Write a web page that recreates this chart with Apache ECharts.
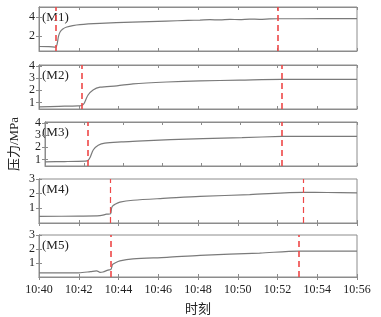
<!DOCTYPE html>
<html>
<head>
<meta charset="utf-8">
<script src="https://cdn.jsdelivr.net/npm/echarts@6/dist/echarts.min.js"></script>
<style>
  html, body { margin: 0; padding: 0; background: #fff; }
  #chart { width: 381px; height: 317px; }
</style>
</head>
<body>
<div id="chart"></div>
<script>
// minutes after 10:40
const timeTicks = [0, 2, 4, 6, 8, 10, 12, 14, 16]
const panelNames = ['(M1)', '(M2)', '(M3)', '(M4)', '(M5)']

// [minute, pressure MPa]
const m1 = [[0, 0.96], [0.5, 0.95], [0.85, 0.9], [0.92, 1.3], [0.98, 2.0], [1.06, 2.45], [1.2, 2.75], [1.4, 2.95],
  [1.7, 3.1], [2.06, 3.2], [3.07, 3.32], [4.7, 3.46], [6.4, 3.56], [7.5, 3.63], [8.1, 3.66], [8.6, 3.7],
  [9.1, 3.68], [9.6, 3.73], [10.1, 3.71], [10.6, 3.76], [11.1, 3.74], [11.6, 3.78], [12.0, 3.8], [13, 3.8], [16, 3.81]]
const m2 = [[0, 0.63], [1, 0.67], [1.96, 0.71], [2.15, 0.74], [2.25, 0.88], [2.31, 1.05], [2.47, 1.61], [2.72, 2.03],
  [3.07, 2.26], [3.92, 2.37], [4.73, 2.54], [6.44, 2.69], [8.1, 2.78], [10.1, 2.84], [12.2, 2.9], [13, 2.9], [16, 2.9]]
const m3 = [[0, 0.8], [1, 0.82], [2.06, 0.86], [2.2, 0.9], [2.31, 1.15], [2.48, 1.8], [2.73, 2.17], [3.07, 2.35],
  [3.91, 2.45], [4.73, 2.51], [6.44, 2.63], [8.1, 2.72], [10.1, 2.81], [12.15, 2.9], [13, 2.91], [16, 2.91]]
const m4 = [[0, 0.45], [2, 0.47], [3.07, 0.5], [3.4, 0.6], [3.6, 0.63], [3.65, 1.0], [3.7, 1.15], [3.82, 1.27],
  [4.07, 1.42], [4.73, 1.55], [6.44, 1.69], [8.1, 1.82], [10.6, 1.93], [13.3, 2.09], [14.5, 2.08], [16, 2.06]]
const m5 = [[0, 0.29], [2, 0.3], [2.58, 0.38], [2.9, 0.44], [3.07, 0.33], [3.22, 0.36], [3.47, 0.49], [3.62, 0.55],
  [3.7, 0.89], [3.82, 1.0], [4.07, 1.15], [4.73, 1.29], [6.44, 1.4], [8.1, 1.55], [11.1, 1.71], [13.08, 1.85], [16, 1.85]]

// red dashed markers (minutes)
const marks = [[0.86, 12.0], [2.15, 12.2], [2.2, 12.15], [3.6, 13.3], [3.6, 13.08]]

const yMin = [0.5, 0.45, 0.45, 0, 0]
const yMax = [5, 4.1, 4.1, 3, 3]
const yTicks = [[2, 4], [1, 2, 3, 4], [1, 2, 3, 4], [1, 2, 3], [1, 2, 3]]

const seriesData = [m1, m2, m3, m4, m5]
const tops = [7, 65, 122, 179, 235]

const serif = 'Liberation Serif, Noto Sans CJK SC'
const frame = '#8c8c8c'

let grids = [], xAxes = [], yAxes = [], series = [], texts = []

seriesData.forEach((data, i) => {
  grids.push({ left: 39, right: 24, top: tops[i], height: 44, show: true, borderColor: frame, borderWidth: 1 })
  let last = i === 4
  xAxes.push({
    type: 'value', gridIndex: i, min: 0, max: 16, interval: 2,
    axisLine: { lineStyle: { color: frame } },
    axisTick: { inside: true, length: 3, lineStyle: { color: frame } },
    splitLine: { show: false },
    axisLabel: {
      show: last, color: '#222', fontFamily: serif, fontSize: 12, margin: 7,
      formatter: v => '10:' + (40 + v)
    },
    name: last ? '时刻' : '', nameLocation: 'middle', nameGap: 26,
    nameTextStyle: { fontFamily: serif, fontSize: 13, color: '#222' }
  })
  xAxes.push({
    type: 'value', gridIndex: i, min: 0, max: 16, interval: 2, position: 'top',
    axisLine: { lineStyle: { color: frame } },
    axisTick: { inside: true, length: 3, lineStyle: { color: frame } },
    splitLine: { show: false }, axisLabel: { show: false }
  })
  yAxes.push({
    type: 'value', gridIndex: i, min: yMin[i], max: yMax[i],
    axisLine: { show: true, lineStyle: { color: frame } },
    axisTick: { show: true, inside: true, length: 3, customValues: yTicks[i], lineStyle: { color: frame } },
    splitLine: { show: false },
    axisLabel: { customValues: yTicks[i], color: '#222', fontFamily: serif, fontSize: 12, margin: 4 },
    name: i === 2 ? '压力/MPa' : '', nameLocation: 'middle', nameGap: 24, nameRotate: 90,
    nameTextStyle: { fontFamily: serif, fontSize: 13, color: '#222' }
  })
  yAxes.push({
    type: 'value', gridIndex: i, min: yMin[i], max: yMax[i], position: 'right',
    axisLine: { show: true, lineStyle: { color: frame } },
    axisTick: { show: true, inside: true, length: 3, customValues: yTicks[i], lineStyle: { color: frame } },
    splitLine: { show: false }, axisLabel: { show: false }
  })
  series.push({
    type: 'line', xAxisIndex: i * 2, yAxisIndex: i * 2, data: data,
    showSymbol: false, smooth: 0.3,
    lineStyle: { color: '#7a7a7a', width: 1.2 },
    markLine: {
      silent: true, symbol: ['none', 'none'], label: { show: false },
      lineStyle: { color: '#ee4848', type: [6, 4], width: i === 3 ? 1.2 : 1.6 },
      data: marks[i].map(t => ({ xAxis: t }))
    }
  })
  texts.push({
    type: 'text', left: 42, top: tops[i] + 4,
    style: { text: panelNames[i], font: '13px ' + serif, fill: '#222' }
  })
})

let chart = echarts.init(document.getElementById('chart'))
chart.setOption({
  animation: false,
  grid: grids,
  xAxis: xAxes,
  yAxis: yAxes,
  series: series,
  graphic: texts
})
</script>
</body>
</html>
